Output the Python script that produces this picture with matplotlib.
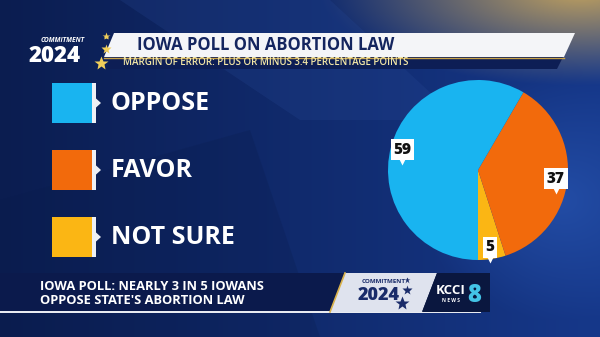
import numpy as np
import matplotlib
matplotlib.use("Agg")
import matplotlib.pyplot as plt
from matplotlib.patches import Polygon, Rectangle
import matplotlib.colors as mcolors

# ---- data ----
categories = ["OPPOSE", "FAVOR", "NOT SURE"]
values = [59, 37, 5]
colors = ["#19b4f0", "#f26a0c", "#fbb614"]
title = "IOWA POLL ON ABORTION LAW"
subtitle = "MARGIN OF ERROR: PLUS OR MINUS 3.4 PERCENTAGE POINTS"
headline = ["IOWA POLL: NEARLY 3 IN 5 IOWANS", "OPPOSE STATE'S ABORTION LAW"]

FONT = "Open Sans"
W, H = 600, 337
fig = plt.figure(figsize=(6.0, 3.37), dpi=100)

# ---- background ----
bg = fig.add_axes([0, 0, 1, 1])
bg.set_xlim(0, W)
bg.set_ylim(H, 0)
bg.axis("off")
yy, xx = np.mgrid[0:H, 0:W]
c_dark = np.array(mcolors.to_rgb("#0b1d50"))
c_mid = np.array(mcolors.to_rgb("#16388a"))
c_light = np.array(mcolors.to_rgb("#2652ad"))
c_gold = np.array(mcolors.to_rgb("#c9a65c"))
t = np.clip(xx / W, 0, 1)[..., None]
img = c_dark * (1 - t) + c_mid * t
d = np.sqrt(((xx - 560) / 140.0) ** 2 + ((yy - 200) / 120.0) ** 2)[..., None]
img = img + (c_light - img) * np.clip(1 - d, 0, 1) * 0.8
g = np.sqrt(((xx - 580) / 260.0) ** 2 + ((yy + 10) / 95.0) ** 2)[..., None]
img = img + (c_gold - img) * np.clip(1 - g, 0, 1) ** 1.1 * 0.95
bg.imshow(img, extent=[0, W, H, 0], aspect="auto", zorder=0)
bg.add_patch(Polygon([[120, 0], [330, 0], [460, 120], [300, 120]], closed=True,
                     color="#2a4c9a", alpha=0.22, lw=0, zorder=1))
bg.add_patch(Polygon([[0, 200], [250, 130], [320, 337], [0, 337]], closed=True,
                     color="#0a1c4c", alpha=0.25, lw=0, zorder=1))

# ---- title banner ----
bg.add_patch(Polygon([[114, 33], [575, 33], [564, 57], [104, 57]], closed=True,
                     facecolor="#f4f5f8", edgecolor="none", zorder=3))
bg.add_patch(Polygon([[112, 57], [563, 57], [557, 69], [106, 69]], closed=True,
                     facecolor="#0d1e55", edgecolor="none", zorder=3))
bg.plot([104, 564], [57.5, 57.5], color="#c9a24a", lw=1.0, zorder=4)
bg.text(266, 45.5, title, color="#14255f", fontsize=12, fontweight="bold",
        family=FONT, ha="center", va="center", zorder=5)
bg.text(266, 62.8, subtitle, color="#f3e7a6", fontsize=7.0, fontweight="semibold",
        family=FONT, ha="center", va="center", zorder=5)

# ---- commitment 2024 logo (top-left) ----
bg.text(63, 40.5, "COMMITMENT", color="white", fontsize=4.8, fontstyle="italic",
        fontweight="bold", family=FONT, ha="center", va="center", zorder=5)
bg.text(55, 56.5, "2024", color="white", fontsize=16, fontweight="heavy",
        family=FONT, ha="center", va="center", zorder=5)
for (sx, sy, ss) in [(106, 36, 6), (106, 49, 7), (101, 63, 10)]:
    bg.plot(sx, sy, marker="*", ms=ss, color="#f1cf5a", mec="none", zorder=5)

# ---- legend ----
leg_y = [103, 170, 237]
for cat, col, yc in zip(categories, colors, leg_y):
    bg.add_patch(Rectangle((52, yc - 20), 40, 40, facecolor=col, edgecolor="none", zorder=3))
    bg.add_patch(Rectangle((92, yc - 20), 3.5, 40, facecolor="#eef0f4", edgecolor="none", zorder=3))
    bg.add_patch(Polygon([[95.5, yc - 5], [101, yc], [95.5, yc + 5]], closed=True,
                         facecolor="#eef0f4", edgecolor="none", zorder=3))
    bg.text(111, yc + 0.5, cat, color="white", fontsize=18, fontweight="bold",
            family=FONT, ha="left", va="center", zorder=5)

# ---- lower third ----
bg.add_patch(Polygon([[0, 273], [490, 273], [490, 312], [0, 312]], closed=True,
                     facecolor="#0b1a4c", edgecolor="none", zorder=3))
bg.add_patch(Rectangle((0, 311), 481, 2.2, facecolor="#e8ebf2", edgecolor="none", zorder=4))
bg.text(40, 286, headline[0], color="white", fontsize=9.3, fontweight="bold",
        family=FONT, ha="left", va="center", zorder=5)
bg.text(40, 301, headline[1], color="white", fontsize=9.3, fontweight="bold",
        family=FONT, ha="left", va="center", zorder=5)
bg.add_patch(Polygon([[345, 273], [437, 273], [422, 312], [330, 312]], closed=True,
                     facecolor="#dfe3ee", edgecolor="none", zorder=4))
bg.plot([345, 330], [273, 312], color="#d9b24c", lw=1.2, zorder=5)
bg.text(384, 281.5, "COMMITMENT", color="#1a2c6a", fontsize=4.5, fontweight="bold",
        family=FONT, ha="center", va="center", zorder=6)
bg.text(379, 295.5, "2024", color="#1a2c6a", fontsize=13, fontweight="heavy",
        family=FONT, ha="center", va="center", zorder=6)
for (sx, sy, ss) in [(407, 280, 5), (407, 290, 7), (402, 303, 10)]:
    bg.plot(sx, sy, marker="*", ms=ss, color="#1a2c6a", mec="none", zorder=6)
bg.add_patch(Polygon([[437, 273], [490, 273], [490, 312], [422, 312]], closed=True,
                     facecolor="#0a173f", edgecolor="none", zorder=4))
bg.text(451, 291, "KCCI", color="white", fontsize=9.5, fontweight="bold",
        family=FONT, ha="center", va="center", zorder=6)
bg.text(451, 301, "N E W S", color="white", fontsize=3.5, fontweight="bold",
        family=FONT, ha="center", va="center", zorder=6)
bg.text(474, 295, "8", color="#43c3e6", fontsize=17, fontweight="heavy",
        family=FONT, ha="center", va="center", zorder=6)

# ---- pie ----
cx, cy, r = 478, 170, 90
pax = fig.add_axes([(cx - r) / W, 1 - (cy + r) / H, 2 * r / W, 2 * r / H])
order = [2, 1, 0]
wedges, texts = pax.pie([values[i] for i in order], colors=[colors[i] for i in order],
                        labels=[str(values[i]) for i in order], labeldistance=0.87,
                        startangle=-90, counterclock=True,
                        wedgeprops=dict(linewidth=0))
pax.set_xlim(-1, 1)
pax.set_ylim(-1, 1)
pax.set_aspect("equal")
for tx in texts:
    tx.set_ha("center")
    tx.set_va("center")
    tx.set_fontsize(11)
    tx.set_fontweight("heavy")
    tx.set_family(FONT)
    tx.set_color("#111111")
    tx.set_clip_on(False)
    tx.set_bbox(dict(boxstyle="square,pad=0.18", facecolor="white", edgecolor="none"))
    x, y = tx.get_position()
    pax.plot(x, y - 0.14, marker="v", ms=4, color="white", mec="none", zorder=4,
             clip_on=False)

fig.savefig("out.png", dpi=100)
